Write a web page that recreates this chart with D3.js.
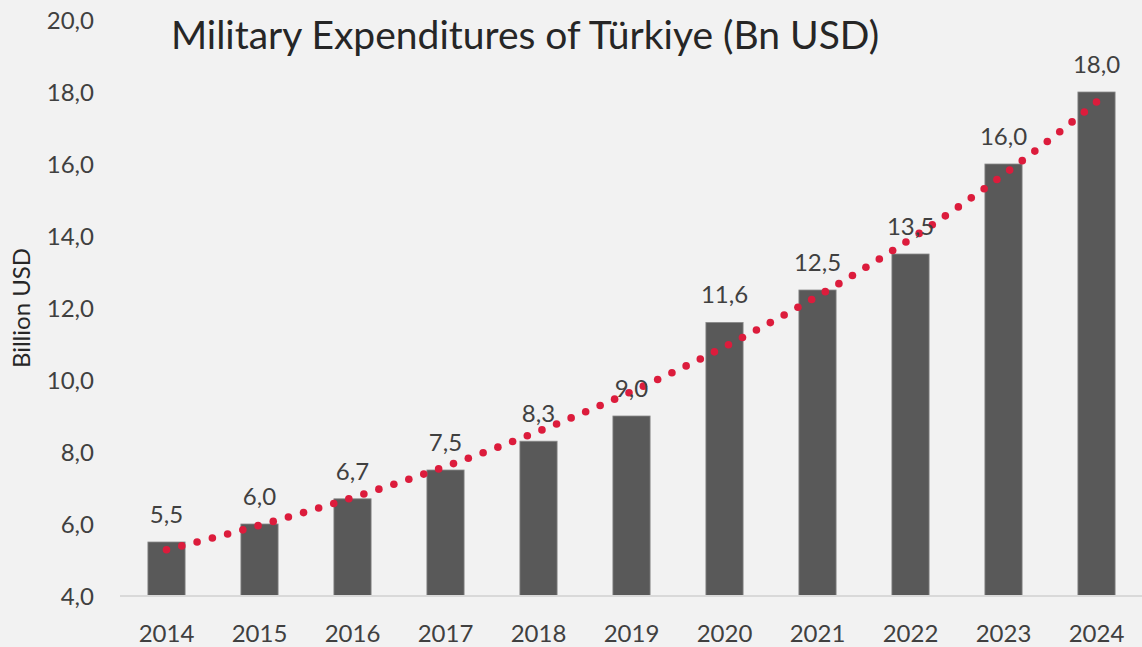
<!DOCTYPE html>
<html>
<head>
<meta charset="utf-8">
<script src="https://cdn.jsdelivr.net/npm/d3@7"></script>
<style>
body{margin:0;background:#f2f2f2;}
svg{display:block;font-family:Lato,"Open Sans",sans-serif;}
</style>
</head>
<body>
<svg width="1142" height="647"></svg>
<script>
const years=['2014','2015','2016','2017','2018','2019','2020','2021','2022','2023','2024'];
const spending=[5.5,6.0,6.7,7.5,8.3,9.0,11.6,12.5,13.5,16.0,18.0];
const yTicks=[4,6,8,10,12,14,16,18,20];

const svg=d3.select('svg');
const margin={top:20,right:-1,bottom:51,left:120};
const width=1142-margin.left-margin.right;
const height=647-margin.top-margin.bottom;
const fmt=v=>d3.format('.1f')(v).replace('.',',');

svg.append('rect').attr('width',1142).attr('height',647).attr('fill','#f2f2f2');

const g=svg.append('g').attr('transform',`translate(${margin.left},${margin.top})`);

const x=d3.scaleBand().domain(years).range([0,width]).paddingInner(0.6).paddingOuter(0.3);
const y=d3.scaleLinear().domain([4,20]).range([height,0]);

// y labels
g.selectAll('.ylab').data(yTicks).enter().append('text')
 .attr('x',-26).attr('y',d=>y(d)).attr('dy','0.36em')
 .attr('text-anchor','end').attr('font-size',24).attr('fill','#404040')
 .text(fmt);

// axis title
svg.append('text')
 .attr('transform','translate(30,308) rotate(-90)')
 .attr('text-anchor','middle').attr('font-size',24).attr('fill','#262626')
 .text('Billion USD');

// bars
g.selectAll('.bar').data(spending).enter().append('rect')
 .attr('x',(d,i)=>x(years[i])).attr('y',d=>y(d))
 .attr('width',x.bandwidth()).attr('height',d=>height-y(d))
 .attr('fill','#595959').attr('stroke','#8a8a8a').attr('stroke-width',0.8);

// baseline
g.append('line').attr('x1',0).attr('x2',width).attr('y1',height).attr('y2',height)
 .attr('stroke','#d9d9d9').attr('stroke-width',2);

// x labels
g.selectAll('.xlab').data(years).enter().append('text')
 .attr('x',d=>x(d)+x.bandwidth()/2).attr('y',height+46)
 .attr('text-anchor','middle').attr('font-size',24).attr('fill','#404040')
 .text(d=>d);

// exponential trendline: least squares fit on ln(value)
const n=spending.length;
const idx=d3.range(n);
const lv=spending.map(Math.log);
const mt=d3.mean(idx),ml=d3.mean(lv);
const slope=d3.sum(idx,i=>(i-mt)*(lv[i]-ml))/d3.sum(idx,i=>(i-mt)*(i-mt));
const icpt=ml-slope*mt;
const trend=d3.range(0,n-1+0.001,0.05).map(t=>[t,Math.exp(icpt+slope*t)]);
const tx=t=>x(years[0])+x.bandwidth()/2+t*x.step();
const tp=g.append('path').datum(trend)
 .attr('d',d3.line().x(d=>tx(d[0])).y(d=>y(d[1])))
 .attr('fill','none').attr('stroke','none');
const len=tp.node().getTotalLength();
const nDots=Math.round(len/15.8);
g.selectAll('.tdot').data(d3.range(nDots+1)).enter().append('circle')
 .each(function(k){const p=tp.node().getPointAtLength(len*k/nDots);
   d3.select(this).attr('cx',p.x).attr('cy',p.y);})
 .attr('r',3.8).attr('fill','#dc1c3c');

// data labels
g.selectAll('.vlab').data(spending).enter().append('text')
 .attr('x',(d,i)=>x(years[i])+x.bandwidth()/2).attr('y',d=>y(d)-19)
 .attr('text-anchor','middle').attr('font-size',24).attr('fill','#404040')
 .text(fmt);

// title
svg.append('text').attr('x',525).attr('y',49)
 .attr('text-anchor','middle').attr('font-size',39).attr('fill','#262626')
 .text('Military Expenditures of Türkiye (Bn USD)');
</script>
</body>
</html>
